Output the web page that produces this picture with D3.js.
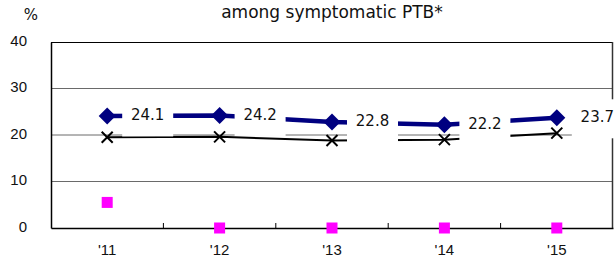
<!DOCTYPE html>
<html>
<head>
<meta charset="utf-8">
<script src="https://cdn.jsdelivr.net/npm/d3@7"></script>
<style>
  body { margin: 0; background: #fff; }
  svg { display: block; font-family: "DejaVu Sans", Verdana, sans-serif; }
</style>
</head>
<body>
<svg id="chart" width="615" height="261"></svg>
<script>
var years = ["'11", "'12", "'13", "'14", "'15"];
var navyVals = [24.1, 24.2, 22.8, 22.2, 23.7];
var blackVals = [19.5, 19.6, 18.8, 19.0, 20.4];
var pinkVals = [5.5, 0, 0, 0, 0];
var yTicks = [0, 10, 20, 30, 40];

var margin = { top: 42, right: 2, bottom: 33, left: 51 },
    width = 615 - margin.left - margin.right,
    height = 261 - margin.top - margin.bottom;

var svg = d3.select("#chart");
var g = svg.append("g").attr("transform", "translate(" + margin.left + "," + margin.top + ")");

var x = d3.scaleBand().domain(years).range([0, width]).padding(0);
var y = d3.scaleLinear().domain([0, 40]).range([height, 0]);
var cx = function (d, i) { return x(years[i]) + x.bandwidth() / 2; };

// gridlines
g.append("g").selectAll("line")
    .data([10, 20, 30])
    .join("line")
    .attr("x1", 0).attr("x2", width)
    .attr("y1", function (d) { return y(d); })
    .attr("y2", function (d) { return y(d); })
    .attr("stroke", "#6a6a6a")
    .attr("stroke-width", 1);

// top + right border
g.append("line").attr("x1", 0).attr("x2", width).attr("y1", 0.5).attr("y2", 0.5)
    .attr("stroke", "#000").attr("stroke-width", 1);
g.append("line").attr("x1", width - 0.5).attr("x2", width - 0.5).attr("y1", 0).attr("y2", height)
    .attr("stroke", "#333").attr("stroke-width", 1.5);

// y axis
var yAxis = g.append("g")
    .call(d3.axisLeft(y).tickValues(yTicks).tickSize(0).tickPadding(24));
yAxis.select(".domain").attr("stroke", "#000").attr("stroke-width", 1.5);
yAxis.selectAll("text").attr("font-size", 15).attr("fill", "#111").attr("dy", "0.22em");

// x axis, ticks pointing up between categories
var xAxis = g.append("g").attr("transform", "translate(0," + height + ")")
    .call(d3.axisBottom(x).tickSize(0).tickPadding(16));
xAxis.select(".domain").attr("stroke", "#000").attr("stroke-width", 1.5);
xAxis.selectAll("text").attr("font-size", 15).attr("fill", "#111");
g.append("g").selectAll("line")
    .data(years.slice(1))
    .join("line")
    .attr("x1", function (d) { return x(d); })
    .attr("x2", function (d) { return x(d); })
    .attr("y1", height).attr("y2", height - 5)
    .attr("stroke", "#000").attr("stroke-width", 1);

// black series
var lineBlack = d3.line().x(cx).y(function (d) { return y(d); });
g.append("path").datum(blackVals)
    .attr("d", lineBlack)
    .attr("fill", "none").attr("stroke", "#000").attr("stroke-width", 2);

// navy series
g.append("path").datum(navyVals)
    .attr("d", lineBlack)
    .attr("fill", "none").attr("stroke", "#000080").attr("stroke-width", 4.5);

// data label boxes (cover lines behind them)
var labels = g.append("g").selectAll("g")
    .data(navyVals)
    .join("g")
    .attr("transform", function (d, i) { return "translate(" + (cx(d, i) + 40.5) + "," + (y(d) + 1) + ")"; });
labels.append("rect")
    .attr("x", -25.5).attr("y", -19.5).attr("width", 51).attr("height", 39)
    .attr("fill", "#fff");
labels.append("text")
    .attr("text-anchor", "middle").attr("dy", "0.3em").attr("y", -1)
    .attr("font-size", 15).attr("fill", "#111")
    .text(function (d) { return d.toFixed(1); });

// X markers
g.append("g").selectAll("path")
    .data(blackVals)
    .join("path")
    .attr("transform", function (d, i) { return "translate(" + cx(d, i) + "," + y(d) + ")"; })
    .attr("d", "M-5.5,-5.5L5.5,5.5M-5.5,5.5L5.5,-5.5")
    .attr("stroke", "#000").attr("stroke-width", 2).attr("fill", "none");

// diamonds
g.append("g").selectAll("path")
    .data(navyVals)
    .join("path")
    .attr("transform", function (d, i) { return "translate(" + cx(d, i) + "," + y(d) + ")"; })
    .attr("d", "M0,-8.5L8.5,0L0,8.5L-8.5,0Z")
    .attr("fill", "#000080");

// magenta squares
g.append("g").selectAll("rect")
    .data(pinkVals)
    .join("rect")
    .attr("x", function (d, i) { return cx(d, i) - 5.5; })
    .attr("y", function (d) { return y(d) - 5.5; })
    .attr("width", 11).attr("height", 11)
    .attr("fill", "#ff00ff");

// title and unit
svg.append("text").attr("x", margin.left + width / 2).attr("y", 18)
    .attr("text-anchor", "middle").attr("font-size", 17).attr("fill", "#111")
    .text("among symptomatic PTB*");
svg.append("text").attr("x", 31).attr("y", 20)
    .attr("text-anchor", "middle").attr("font-size", 15).attr("fill", "#111")
    .text("%");
</script>
</body>
</html>
